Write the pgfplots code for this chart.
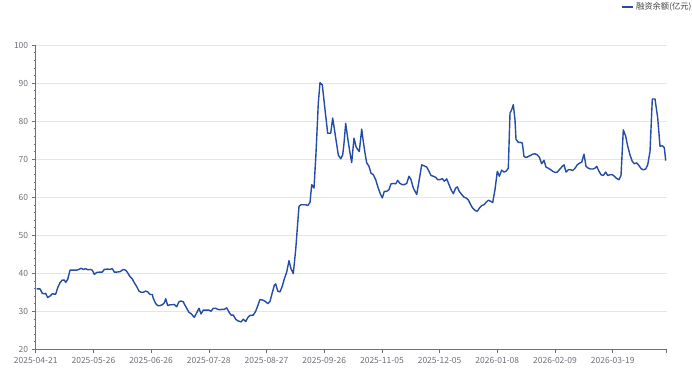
\documentclass[border=0pt]{standalone}
\usepackage{pgfplots}
\pgfplotsset{compat=1.18}
\usepackage{fontspec}
\setmainfont{Noto Sans CJK SC}
\definecolor{lineblue}{RGB}{36,76,166}
\definecolor{labgray}{HTML}{6E7079}
\definecolor{gridc}{HTML}{E0E6F1}
\begin{document}
\begin{tikzpicture}
\useasboundingbox (-35.7pt,-22.7pt) rectangle (656.3pt,349.3pt);
\begin{axis}[
  scale only axis,
  width=631pt, height=304.3pt,
  xmin=0, xmax=631, ymin=20, ymax=100,
  axis lines=left,
  axis line style={-, draw=labgray, line width=0.6pt},
  xtick={0,57.7,115.4,173.1,230.8,288.5,346.2,403.9,461.6,519.3,577},
  xticklabels={2025-04-21,2025-05-26,2025-06-26,2025-07-28,2025-08-27,2025-09-26,2025-11-05,2025-12-05,2026-01-08,2026-02-09,2026-03-19},
  extra x ticks={631}, extra x tick labels={},
  ytick={20,30,...,100},
  minor y tick num=4,
  tick align=outside,
  major tick length=4pt, minor tick length=2pt,
  tick style={draw=labgray, line width=0.5pt},
  ymajorgrids, grid style={draw=gridc, line width=0.6pt},
  extra x tick style={grid=none},
  tick label style={font=\fontsize{8.5}{10}\selectfont, text=labgray},
  /pgf/number format/assume math mode=true,
  legend style={draw=none, fill=none, at={(1,1)}, anchor=east, xshift=27pt, yshift=38pt,
    font=\fontsize{8.3}{10}\selectfont\color{black!75}, inner sep=0pt},
  legend image code/.code={\draw[lineblue, line width=1.4pt] (0pt,0pt) -- (11pt,0pt);},
]
\addplot[lineblue, line width=1.4pt, line join=round] coordinates {
(1.0,35.9)(4.3,35.9)(6.6,34.7)(8.6,34.6)(10.0,34.7)(12.0,33.6)(14.3,34)(16.6,34.6)(18.6,34.5)(20.0,34.5)
(22.0,36.2)(24.3,37.5)(26.6,38.2)(28.6,38.2)(30.0,37.6)(32.0,38.4)(34.3,40.8)(36.6,40.8)(41.0,40.8)(43.3,41)
(45.3,41.3)(47.6,41)(50.0,41.2)(52.0,40.9)(54.3,41)(56.6,40.8)(58.6,39.7)(61.0,40.2)(64.3,40.3)(66.6,40.3)
(68.6,41)(72.0,41.1)(74.3,41)(76.6,41.2)(78.6,40.3)(81.0,40.3)(84.3,40.4)(87.6,41)(90.0,40.8)(92.0,40.1)
(94.3,39.1)(96.6,38.5)(98.6,37.5)(101.0,36.5)(103.3,35.3)(105.3,35)(107.6,35)(110.0,35.3)(112.0,35.1)(114.3,34.4)
(116.6,34.4)(117.6,33.4)(120.0,32)(122.0,31.5)(124.3,31.5)(126.6,31.7)(128.6,32.2)(130.0,33.3)(132.0,31.5)(134.3,31.7)
(136.6,31.7)(138.6,31.8)(141.0,31.2)(143.3,32.5)(145.3,32.7)(147.6,32.5)(148.6,31.9)(151.0,30.8)(153.3,29.7)(155.3,29.4)
(157.6,28.7)(158.6,28.4)(161.0,29.6)(163.3,30.8)(165.3,29.3)(167.6,30.3)(170.0,30.3)(173.3,30.3)(175.3,30)(177.6,30.8)
(180.0,30.8)(182.0,30.5)(184.3,30.4)(186.6,30.5)(188.6,30.5)(191.0,30.9)(193.3,29.8)(195.3,29)(197.6,29)(200.0,27.9)
(202.0,27.5)(205.3,27.2)(207.6,27.9)(210.0,27.3)(212.0,28.3)(214.3,28.9)(217.6,29)(220.0,30)(222.0,31.4)(224.3,33.1)
(227.6,32.9)(230.0,32.5)(232.0,32)(234.3,32.6)(236.6,34.9)(238.6,36.8)(240.0,37.2)(242.0,35.3)(244.3,35.1)(246.6,36.6)
(248.6,38.5)(251.0,40.3)(253.3,43.3)(255.3,41.2)(257.6,39.9)(260.0,46.2)(262.0,53.2)(263.3,57.6)(265.3,58)(267.6,58)
(270.0,58)(272.0,57.8)(274.3,58.6)(276.0,63.3)(278.3,62.4)(280.3,71.6)(282.6,84.7)(284.3,90.1)(286.6,89.5)(289.3,83)
(292.0,76.8)(295.0,76.8)(297.0,80.8)(299.3,76.8)(302.6,71.1)(305.0,70.1)(307.0,71.1)(308.3,74.2)(310.0,79.4)(312.0,75.5)
(314.3,71.6)(316.0,69.1)(318.3,75.5)(320.3,73.3)(322.0,72.5)(323.6,72)(326.0,77.9)(327.6,74.6)(329.3,71.6)(331.0,69)
(333.3,68.1)(335.3,66.3)(337.6,65.9)(340.0,64.6)(342.0,62.8)(344.3,61.1)(346.6,59.8)(348.6,61.5)(351.0,61.5)(353.3,62)
(355.3,63.5)(357.6,63.6)(360.0,63.5)(362.0,64.4)(364.3,63.6)(366.6,63.3)(368.6,63.3)(371.0,63.6)(373.3,65.5)(375.3,64.6)
(377.6,62.4)(381.0,60.7)(383.3,64.2)(386.0,68.5)(388.6,68.2)(391.0,67.9)(393.3,66.8)(395.3,65.7)(397.6,65.5)(400.0,65.2)
(402.0,64.6)(404.3,64.6)(406.6,64.9)(408.6,64.2)(411.0,64.8)(413.3,63.3)(415.3,62)(417.6,60.9)(420.0,62.4)(421.6,62.7)
(423.6,61.5)(426.0,60.7)(428.3,60)(430.3,59.8)(432.6,59.3)(435.0,58)(437.0,57.1)(439.3,56.5)(441.6,56.3)(443.6,57.1)
(446.0,57.8)(448.3,58)(450.3,58.6)(452.6,59.2)(455.0,58.9)(457.0,58.6)(459.3,62)(461.6,66.8)(463.6,65.5)(466.0,67.1)
(468.3,66.6)(470.3,66.8)(472.6,67.6)(474.3,82.1)(476.0,83)(477.6,84.3)(479.3,80.3)(480.3,75.2)(482.6,74.4)(485.0,74.4)
(486.6,74.2)(488.3,70.7)(490.3,70.4)(492.6,70.7)(495.0,71)(497.0,71.3)(499.3,71.4)(501.6,71.1)(503.6,70.5)(506.0,68.8)
(508.3,69.7)(510.3,67.9)(512.6,67.6)(515.0,67.2)(517.0,66.8)(519.3,66.5)(521.6,66.6)(523.6,67.2)(526.6,68.1)(528.3,68.5)
(530.3,66.6)(532.6,67.2)(535.0,67.2)(537.0,67)(539.3,67.6)(541.6,68.5)(543.6,68.9)(546.0,69.2)(548.3,71.3)(550.3,68.1)
(552.6,67.6)(555.0,67.4)(557.0,67.4)(559.3,67.6)(561.0,68.1)(563.3,66.8)(565.3,65.9)(567.6,65.7)(570.0,66.6)(572.0,65.7)
(574.3,65.9)(576.6,65.9)(578.6,65.5)(581.0,64.9)(583.3,64.6)(585.3,65.7)(587.6,77.7)(590.0,76)(592.0,73.4)(594.3,71.1)
(596.6,69.4)(598.6,68.8)(601.0,69)(603.3,68.3)(605.3,67.5)(607.6,67.2)(610.0,67.4)(612.0,68.5)(614.3,72)(616.6,85.8)
(619.3,85.8)(622.0,80.8)(624.3,73.4)(626.6,73.5)(628.6,73)(630.0,69.6)
};
\addlegendentry{融资余额(亿元)}
\end{axis}
\end{tikzpicture}
\end{document}
